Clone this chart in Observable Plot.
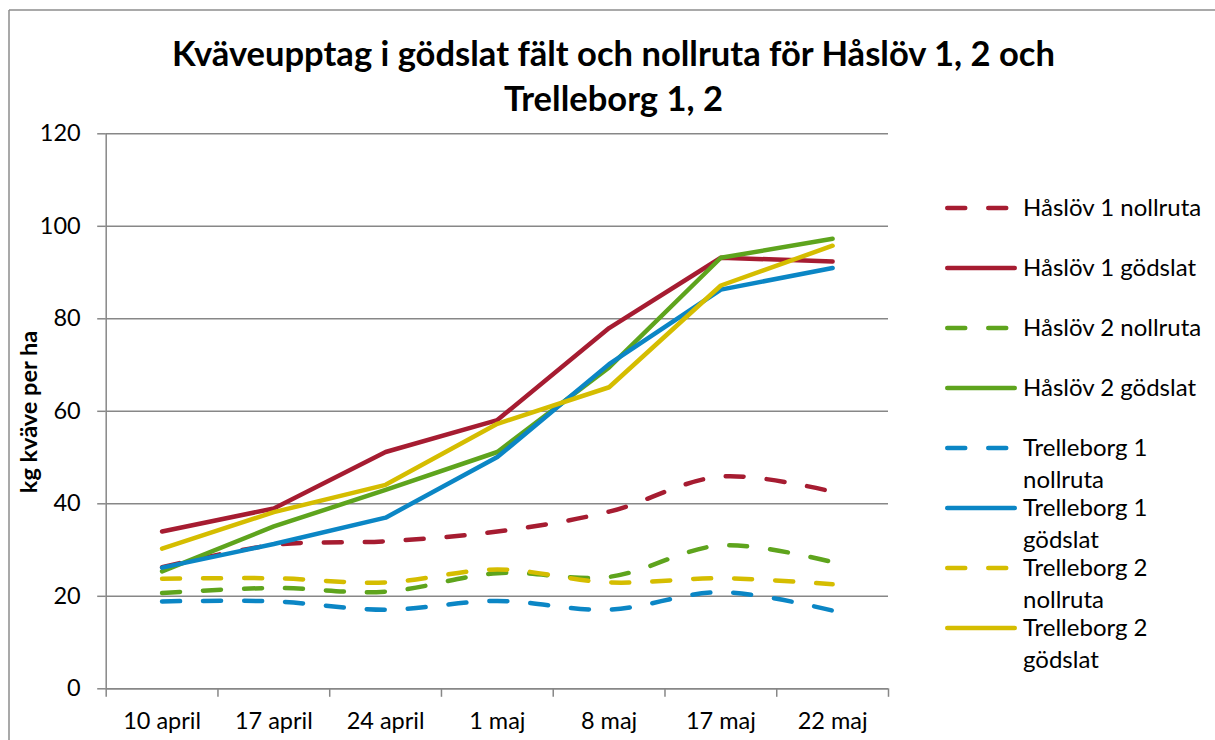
<!DOCTYPE html>
<html><head><meta charset="utf-8">
<script src="https://cdn.jsdelivr.net/npm/d3@7"></script>
<script src="https://cdn.jsdelivr.net/npm/@observablehq/plot@0.6"></script>
<style>
body{margin:0;background:#fff;}
#wrap{position:relative;width:1215px;height:740px;overflow:hidden;background:#fff;font-family:Lato, sans-serif;}
#chart{position:absolute;left:0;top:110px;}
#overlay{position:absolute;left:0;top:0;pointer-events:none;}
</style></head><body>
<div id="wrap"><div id="chart"></div><svg id="overlay" width="1215" height="740" xmlns="http://www.w3.org/2000/svg"></svg></div>
<script>
const titleLines = ["Kväveupptag i gödslat fält och nollruta för Håslöv 1, 2 och", "Trelleborg 1, 2"];
const yLabel = "kg kväve per ha";
const dates = ["10 april", "17 april", "24 april", "1 maj", "8 maj", "17 maj", "22 maj"];
const yTicks = [0, 20, 40, 60, 80, 100, 120];

const haslov1Nollruta     = [26.3, 31.1, 31.9, 34.0, 38.3, 45.9, 42.6];
const haslov1Godslat      = [34.0, 39.0, 51.2, 58.1, 78.0, 93.2, 92.4];
const haslov2Nollruta     = [20.7, 21.8, 21.0, 25.0, 24.2, 31.0, 27.4];
const haslov2Godslat      = [25.4, 35.1, 43.0, 51.2, 69.5, 93.2, 97.3];
const trelleborg1Nollruta = [18.9, 18.9, 17.1, 19.0, 17.1, 20.9, 16.9];
const trelleborg1Godslat  = [26.2, 31.3, 37.0, 50.1, 70.2, 86.3, 91.0];
const trelleborg2Nollruta = [23.8, 23.9, 23.0, 25.8, 23.0, 23.9, 22.6];
const trelleborg2Godslat  = [30.3, 38.2, 44.1, 57.3, 65.2, 87.2, 95.8];

const seriesNames = ["Håslöv 1 nollruta", "Håslöv 1 gödslat", "Håslöv 2 nollruta", "Håslöv 2 gödslat",
  "Trelleborg 1 nollruta", "Trelleborg 1 gödslat", "Trelleborg 2 nollruta", "Trelleborg 2 gödslat"];
const seriesValues = [haslov1Nollruta, haslov1Godslat, haslov2Nollruta, haslov2Godslat,
  trelleborg1Nollruta, trelleborg1Godslat, trelleborg2Nollruta, trelleborg2Godslat];
const seriesColors = ["#A61C31", "#A61C31", "#5EA41D", "#5EA41D", "#0B86C5", "#0B86C5", "#D5BD00", "#D5BD00"];
const seriesDashed = [true, false, true, false, true, false, true, false];

const gray = "#878787";
const dash = "18,23";
const font = "Lato, sans-serif";

const rows = seriesNames.flatMap((name, s) => seriesValues[s].map((v, i) => ({name, s, i, v})));
const idx = dates.map((d, i) => i);
const bounds = d3.range(dates.length + 1).map(i => i - 0.5);

const lineMarks = seriesNames.map((name, s) => Plot.line(rows.filter(r => r.s === s), {
  x: "i", y: "v", stroke: seriesColors[s], strokeWidth: 4.5,
  strokeDasharray: seriesDashed[s] ? dash : null,
  strokeLinecap: "round", strokeLinejoin: "round",
  curve: seriesDashed[s] ? "catmull-rom" : "linear"
}));

const plot = Plot.plot({
  width: 1215, height: 630,
  marginLeft: 105.7, marginRight: 327, marginTop: 23.3, marginBottom: 51.7,
  style: {fontFamily: font, fontSize: "23px", color: "#000", background: "transparent", overflow: "visible"},
  x: {type: "linear", domain: [-0.5, dates.length - 0.5], label: null},
  y: {domain: [0, 120], label: null},
  marks: [
    Plot.gridY(yTicks, {stroke: gray, strokeOpacity: 1, strokeWidth: 1.5}),
    Plot.axisY(yTicks, {tickSize: 8.5, tickPadding: 17, stroke: gray, strokeWidth: 1.5, fill: "#000", fontSize: 23.5, label: null}),
    Plot.axisX(bounds, {tickSize: 8.5, tickFormat: () => "", stroke: gray, strokeWidth: 1.5, label: null}),
    Plot.axisX(idx, {tickSize: 0, tickPadding: 24, tickFormat: i => dates[i], fill: "#000", fontSize: 23.5, label: null}),
    Plot.ruleX([-0.5], {stroke: gray, strokeWidth: 1.5}),
    Plot.ruleY([0], {stroke: gray, strokeWidth: 1.5}),
    ...lineMarks
  ]
});
document.getElementById("chart").appendChild(plot);

// overlay: border, title, y label, legend
const svg = d3.select("#overlay");
svg.append("line").attr("x1", 9).attr("y1", 10).attr("x2", 9).attr("y2", 740).attr("stroke", "#8c8c8c").attr("stroke-width", 1.5);
svg.append("line").attr("x1", 9).attr("y1", 10).attr("x2", 1215).attr("y2", 10).attr("stroke", "#8c8c8c").attr("stroke-width", 1.5);

const t1 = svg.append("text").attr("x", 613.5).attr("y", 66).attr("text-anchor", "middle")
  .attr("font-family", font).attr("font-weight", 700).attr("font-size", 33).attr("fill", "#000").text(titleLines[0]);
const w1 = t1.node().getComputedTextLength();
const titleSize = 33 * 883 / w1;
t1.attr("font-size", titleSize);
svg.append("text").attr("x", 613.5).attr("y", 111).attr("text-anchor", "middle")
  .attr("font-family", font).attr("font-weight", 700).attr("font-size", titleSize).attr("fill", "#000").text(titleLines[1]);

svg.append("text").attr("transform", "translate(37,412) rotate(-90)").attr("text-anchor", "middle")
  .attr("font-family", font).attr("font-weight", 700).attr("font-size", 23.5).attr("fill", "#000").text(yLabel);

seriesNames.forEach((name, s) => {
  const y0 = 208 + 60 * s;
  svg.append("line").attr("x1", 947.25).attr("x2", 1014.75).attr("y1", y0).attr("y2", y0)
    .attr("stroke", seriesColors[s]).attr("stroke-width", 4.5).attr("stroke-linecap", "round")
    .attr("stroke-dasharray", seriesDashed[s] ? dash : null);
  let lines = [name];
  if (name.length > 18) { const k = name.lastIndexOf(" "); lines = [name.slice(0, k), name.slice(k + 1)]; }
  const tx = svg.append("text").attr("x", 1023).attr("y", y0 + 8).attr("font-family", font).attr("font-size", 24).attr("fill", "#000");
  lines.forEach((l, j) => tx.append("tspan").attr("x", 1023).attr("dy", j === 0 ? 0 : 32).text(l));
});
</script>
</body></html>
